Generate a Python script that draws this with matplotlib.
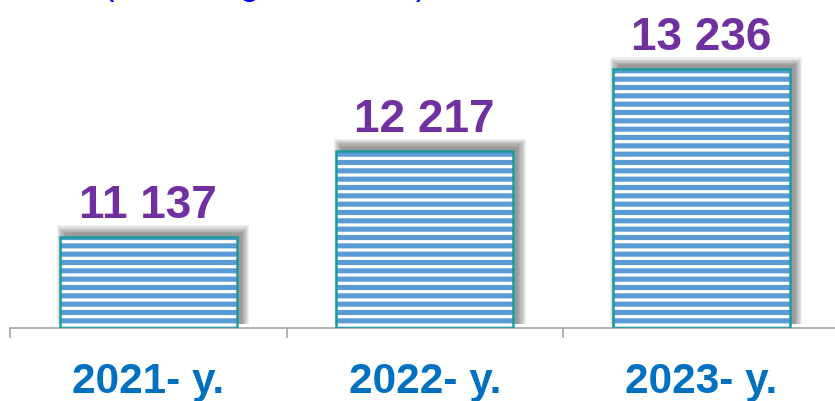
import matplotlib
matplotlib.use('Agg')
import matplotlib.pyplot as plt
from matplotlib.patches import Rectangle
from matplotlib.transforms import ScaledTranslation, blended_transform_factory

# ── Data ─────────────────────────────────────────────────────────────────────
years  = ["2021- y.", "2022- y.", "2023- y."]
values = [11137, 12217, 13236]
value_labels = ["11 137", "12 217", "13 236"]
title_text = "(in the regions, units)"

STRIPE = '#5B9BD5'
EDGE   = '#1A9C9C'
PURPLE = '#7030A0'
BLUE   = '#0070C0'

plt.rcParams['font.family'] = ['Liberation Sans', 'DejaVu Sans']
plt.rcParams['hatch.color'] = STRIPE
plt.rcParams['hatch.linewidth'] = 3.7

W, H = 835, 401
fig = plt.figure(figsize=(W / 100, H / 100), dpi=100)
ax = fig.add_axes([10 / W, (H - 328) / H, 829.5 / W, 328 / H])
ax.set_xlim(-0.5, 2.5)
ax.set_ylim(10000, 14100)

x = range(len(values))
bar_w = 0.64

# ── Soft shadow behind bars (offset up/right, faked blur) ────────────────────
px_x = 3 / 829.5        # data units per pixel
px_y = 4100 / 328
for xi, v in zip(x, values):
    for k in range(8):
        pad = k * 1.1
        shift = ScaledTranslation(5 / 100, 4 / 100, fig.dpi_scale_trans)
        r = Rectangle((xi - bar_w / 2 - pad * px_x, 10000),
                      bar_w + 2 * pad * px_x, v - 10000 + pad * px_y,
                      facecolor='black', edgecolor='none', alpha=0.06,
                      transform=ax.transData + shift, zorder=1)
        ax.add_patch(r)

# ── Bars: white base with blue horizontal stripes + teal outline ────────────
ax.bar(x, [v - 10000 for v in values], bottom=10000, width=bar_w,
       color='white', edgecolor=STRIPE, linewidth=0, hatch='--', zorder=2)
ax.bar(x, [v - 10000 for v in values], bottom=10000, width=bar_w,
       fill=False, edgecolor=EDGE, linewidth=1.8, zorder=3)

# ── Value labels ─────────────────────────────────────────────────────────────
for xi, v, lab in zip(x, values, value_labels):
    ax.annotate(lab, (xi, v), xytext=(0, 13.7), textcoords='offset points',
                ha='center', va='baseline', fontsize=33, fontweight='bold',
                color=PURPLE)

# ── Axis styling ─────────────────────────────────────────────────────────────
for s in ['left', 'right', 'top']:
    ax.spines[s].set_visible(False)
ax.spines['bottom'].set_color('#A6A6A6')
ax.spines['bottom'].set_linewidth(1.2)
ax.set_yticks([])
ax.set_xticks([-0.5, 0.5, 1.5, 2.5])
ax.set_xticklabels([])
ax.tick_params(axis='x', length=7.5, width=1.2, color='#A6A6A6', direction='out')

trans = blended_transform_factory(ax.transData, ax.transAxes)
for xi, lab in zip(x, years):
    ax.text(xi, -65 / 328, lab, transform=trans, ha='center', va='baseline',
            fontsize=30.4, fontweight='bold', color=BLUE)

# subtitle sits above the frame, only its descenders show (as in the source)
fig.text(265 / W, 1 + 4.5 / H, title_text, ha='center', va='baseline',
         fontsize=25, color='#0000FF')

fig.savefig('out.png', dpi=100)
